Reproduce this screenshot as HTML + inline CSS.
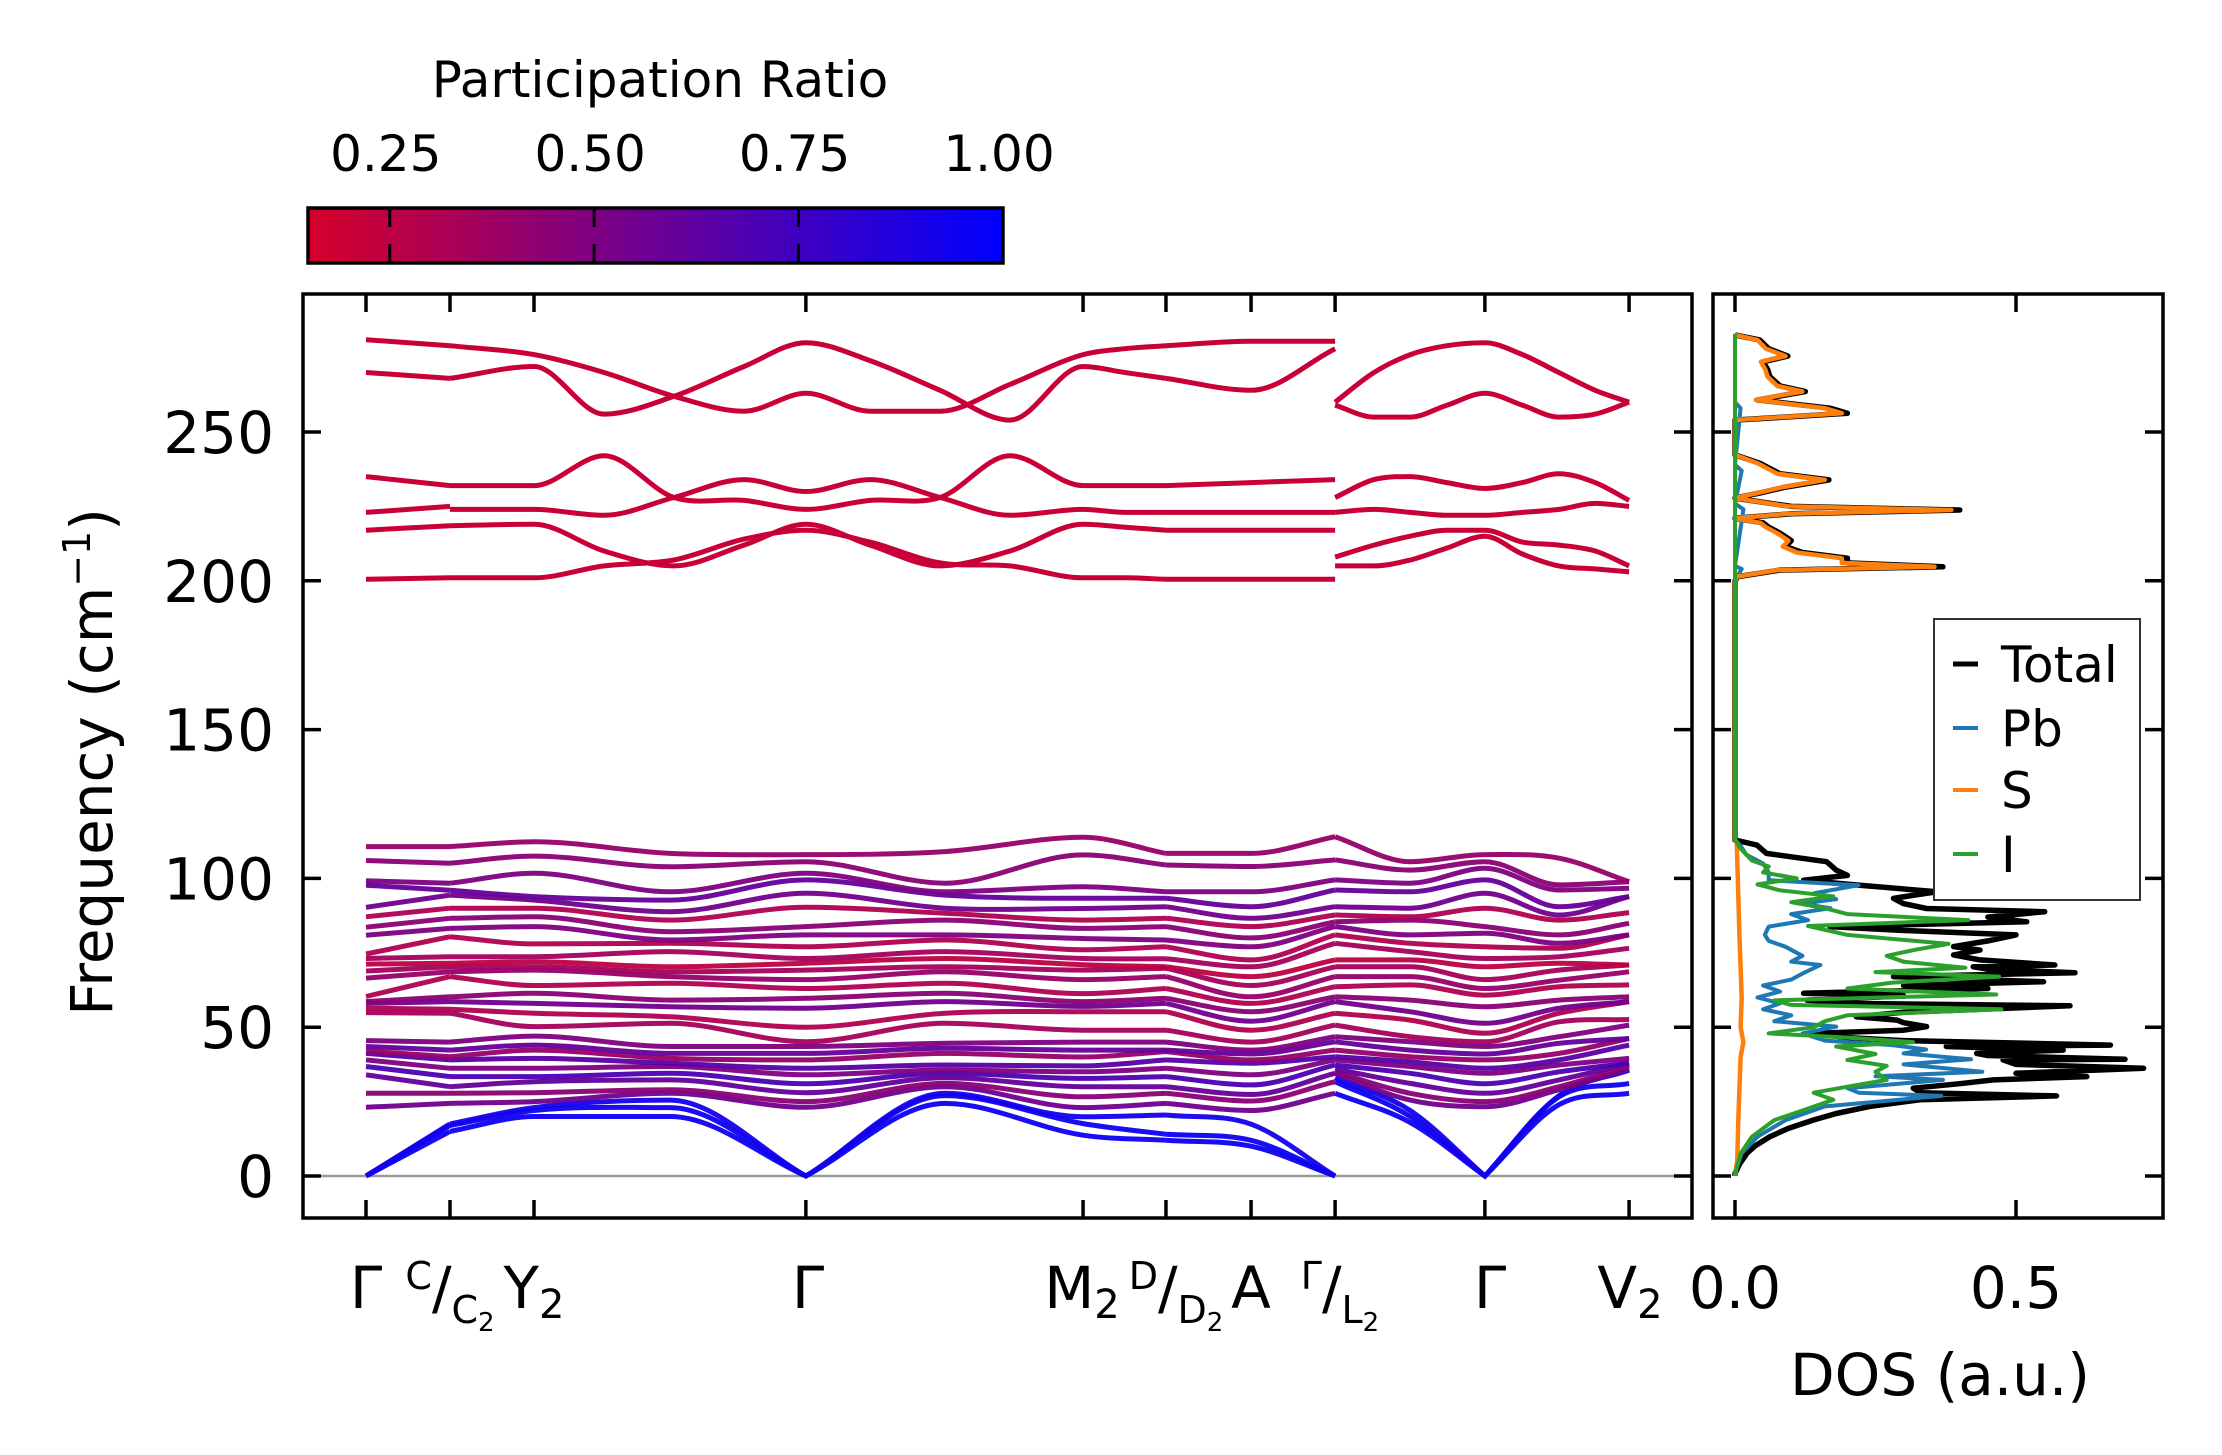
<!DOCTYPE html>
<html><head><meta charset="utf-8"><style>
html,body{margin:0;padding:0;background:#fff;}
svg{display:block;font-family:"DejaVu Sans","Liberation Sans",sans-serif;}
</style></head><body>
<svg id="fig" width="2222" height="1455" viewBox="0 0 2222 1455" xmlns="http://www.w3.org/2000/svg">
<defs>
<linearGradient id="cbgrad" x1="0" x2="1" y1="0" y2="0">
<stop offset="0" stop-color="rgb(214,0,42)"/><stop offset="1" stop-color="rgb(0,0,255)"/>
</linearGradient>
<clipPath id="clipBand"><rect x="303" y="294" width="1389" height="924"/></clipPath>
<clipPath id="clipDos"><rect x="1713" y="294" width="450" height="924"/></clipPath>
</defs>
<g>
<text x="660" y="97" font-size="50" text-anchor="middle">Participation Ratio</text>
<rect x="308" y="208" width="695" height="55" fill="url(#cbgrad)" stroke="#000" stroke-width="3.5"/>
<g id="cbticks"></g>
</g>
<g id="bandPanel">
<line x1="303" x2="1692" y1="1176" y2="1176" stroke="#999" stroke-width="2.5"/>
<g id="bands" clip-path="url(#clipBand)"></g>
<rect x="303" y="294" width="1389" height="924" fill="none" stroke="#000" stroke-width="3.5"/>
<g id="bandTicks"></g>
<text transform="translate(112,762) rotate(-90)" font-size="58" text-anchor="middle">Frequency (cm<tspan font-size="38" dy="-22">−1</tspan><tspan dy="22">)</tspan></text>
<g id="kLabels" font-size="58" text-anchor="middle"></g>
</g>
<g id="dosPanel">
<g id="dosLines" clip-path="url(#clipDos)"></g>
<rect x="1713" y="294" width="450" height="924" fill="none" stroke="#000" stroke-width="3.5"/>
<g id="dosTicks"></g>
<text x="1940" y="1395" font-size="58" text-anchor="middle">DOS (a.u.)</text>
<g>
<rect x="1934" y="619" width="206" height="281" fill="#fff" stroke="#333" stroke-width="2"/>
<g id="legendItems" font-size="50"></g>
</g>
</g>
</svg>
<script>
// ---------- band-structure data ----------
const kTickPos = [0, 0.3, 0.6, 1.571, 2.561, 2.857, 3.161, 3.461, 3.996, 4.511];
const colQ = [0, 0.3, 0.6, 1.086, 1.571, 2.068, 2.561, 2.857, 3.161, 3.461, 3.461, 3.729, 3.996, 4.261, 4.511];
const pieces = [[0,1],[1,2,3,4,5,6,7],[7,8,9],[10,11,12,13,14]];
const lowCols = [
 [0,0,0,23.1,27.8,34,36.8,39,41.2,42,43.5,45.5,54.9,56.4,58,58.6,60.3,66.5,68.9,71.2,73.1,74.6,80.9,83.6,87.1,90.3,97.7,99.2,106,110.7],
 [15,17,17.5,24.4,27.8,30,33.4,36.2,39,40.1,42.3,45,54.7,56,58.6,60.2,67,68.6,70.3,71.5,73.7,80.4,83.2,86.6,90,94.4,96,98.4,105.1,110.7],
 [20,22,23,25,28,31.7,33.4,36.2,39.5,42.3,44,47,50.2,54.7,58,61.4,64,69.2,70.3,72,73.7,78,83.8,87.1,90,92.7,93.9,101.7,107.5,112.3],
 [20,23,25.5,27.8,29,32.3,34.5,36.8,37.9,39.5,41.2,43.5,51.3,53.5,56.9,59.1,64.8,67,68.6,70.3,75.4,78.2,79.3,82.1,86,88.8,92.7,95.5,103.9,108.4],
 [0,0,0,23.1,25,28,31,34,36.2,39,41.2,43.5,45.1,50,56.4,59.7,63,66,69.2,71.5,73.1,77,81,83.8,90.3,95,99.5,101.7,105.6,108],
 [24.4,27,27.8,30,31.1,33,34.5,35.6,37.3,41.2,42.9,44.6,51.3,54.7,58.6,61.4,64.8,68.6,70.3,73.1,75.4,79.3,81,86,88.3,90,94.4,95.5,98.4,109],
 [13.7,17.6,19.9,23,26.6,30,32.8,35,37,40,42.3,45,49,55.2,57,58.6,61.3,66,69.2,71,73.1,76,79.8,83.2,86,89.9,93.3,97.2,107.9,113.8],
 [12,14,20.5,24.4,27.8,30,33.4,36.2,39,41.8,42.3,45,49,55.2,58,59.7,63,67,69.8,70.3,73,77,79.3,83.8,86.6,90.5,93.3,95.5,104.5,108.4],
 [10,12,17.4,22,25.2,27.4,30.6,34,37.9,39,41,42.3,45,49,52,55.2,58,60.2,64,67,70.3,72.6,77,80,83.8,86.6,90.5,95.5,104,108.4],
 [0,0,0,27.8,31.7,34.5,37.3,39,40.1,42.3,45.1,46.8,50.7,54.7,58.6,60.2,63.6,67,70.3,72.6,78.2,81,83.8,85.4,87.7,90.5,96.1,99.5,106.2,114],
 [27.8,31.7,33,34.5,35,36,37.3,39,40.1,42.3,45.1,46.8,50.7,54.7,58.6,60.2,63.6,67,70.3,72.6,78.2,81,83.8,85.4,87.7,90.5,96.1,99.5,106.2,114],
 [18,20,22,25.5,27.8,31.1,34.5,36.8,38.4,40.1,42.3,45.1,46.8,52.4,55.2,59.1,64.2,67,70.3,72.6,75.4,78.2,81,86,87.1,90,95.5,98.4,102.8,105.6],
 [0,0,0,23.3,25,27.8,31,34.5,36.2,39,41,43.5,45.1,48,51.3,56.9,60.8,63,66,70.3,73.1,77,81.6,83.8,90,95,99.5,103.4,105.6,108],
 [24,26.6,27,29,30,32.3,35,37.3,39,41.2,44.6,46.8,51.8,54.7,56.4,59.1,63.6,65.8,69.2,71.5,73.7,76.5,78.2,81,86,87.7,90.5,96.1,97.8,106.8],
 [27.8,31.1,35.6,36,37,37.9,38,39.5,44,46.2,46.2,50.7,52.6,58.6,58.6,60.2,64.2,68.6,70.9,70.9,76.5,81,81,84.9,88.5,93.9,93.9,96.7,98.9,98.9]
];
const prLow = [0.95,0.95,0.92,0.55,0.45,0.6,0.7,0.5,0.65,0.4,0.6,0.5,0.35,0.3,0.55,0.45,0.3,0.4,0.35,0.25,0.35,0.3,0.5,0.45,0.3,0.55,0.6,0.5,0.45,0.4];

// high-frequency bands: own q-sample grid, values per band
const highQ = [0,0.3, 0.3,0.6,0.85,1.1,1.35,1.571,1.8,2.05,2.3,2.561,2.71,2.857, 2.857,3.161,3.461, 3.461,3.6,3.73,3.86,3.996,4.13,4.26,4.39,4.511];
const highPieces = [[0,1],[2,3,4,5,6,7,8,9,10,11,12,13],[14,15,16],[17,18,19,20,21,22,23,24,25]];
const highH1 = [281,279, 279,276,270,262,257,263,257,257,266,276,278,279, 279,280.5,280.5, 260,270,276,279,280,276,270,264,260];
const highH2 = [270,268, 268,272,256,262,272,280,274,264,254,272,270,268, 268,264,278, 259,255,255,259,263,259,255,256,260];
const highM1 = [235,232, 232,232,242,228,227,224,227,228,242,232,232,232, 232,233,234, 228,234,235,233,231,233,236,233,227];
const highM2 = [223,225, 224,224,222,228,234,230,234,228,222,224,223,223, 223,223,223, 223,224,223,222,222,223,224,226,225];
const highM3 = [217,218.5, 218.5,219,210,205,212,219,212,205,210,219,218,217, 217,217,217, 208,212,215,217,217,213,212,210,205];
const highM4 = [200.5,201, 201,201,205,207,214,217,213,206,205,201,201,200.5, 200.5,200.5,200.5, 205,205,207,211,215,209,205,204,203];
const prHigh = [0.2,0.2,0.2,0.2,0.2,0.2];

const cbTicks = [0.25, 0.5, 0.75, 1.0];
const cbLabels = ["0.25","0.50","0.75","1.00"];
const yTicks = [0, 50, 100, 150, 200, 250];
const dosTicks = [0, 0.5];
const dosTickLabels = ["0.0","0.5"];

// ---------- DOS data ----------
const totF = [0,0.8,4,7.6,10,13.2,16,18.8,21,23.4,25.6,26.9,28,29.5,31,32.3,33.4,34.5,36.2,37.5,39,39.2,40.5,41.2,42.3,43.5,44,45.5,46.5,47.9,49,50.2,51.5,52.4,53.5,55,57.2,58,59.1,60.5,61.4,63,64,65.3,67,68.3,69.5,70.3,70.9,72.6,74.3,75.9,77.1,79,81,82.5,83.8,85.4,87,88.8,89.9,91.5,93.3,95.5,97.7,99.4,101,102.8,105.6,108.4,111.2,112.9,200,201.4,203.6,204.7,206,207.6,209.5,211.5,213.5,216,218,219.5,221,222.5,223.8,225,227.8,229.5,231.5,233.9,236,239.5,242.3,254,256.3,258,260.8,263.6,265.5,268.6,271,273.6,275.5,278,280.9,282.6];
const totV = [0,0,0.008,0.021,0.035,0.062,0.095,0.139,0.18,0.24,0.329,0.572,0.33,0.317,0.4,0.46,0.626,0.5,0.727,0.5,0.477,0.694,0.45,0.43,0.584,0.376,0.668,0.3,0.2,0.139,0.3,0.341,0.3,0.288,0.216,0.3,0.596,0.2,0.128,0.3,0.122,0.45,0.3,0.549,0.282,0.605,0.45,0.424,0.569,0.436,0.389,0.436,0.389,0.45,0.5,0.3,0.169,0.519,0.45,0.551,0.341,0.3,0.282,0.359,0.222,0.122,0.2,0.18,0.163,0.056,0.039,0,0,0.005,0.08,0.37,0.2,0.2,0.12,0.09,0.1,0.08,0.06,0.05,0,0.1,0.4,0.1,0,0.044,0.09,0.167,0.08,0.044,0,0,0.2,0.169,0.04,0.125,0.08,0.062,0.058,0.05,0.094,0.06,0.044,0];
const pbF = [0,0.8,7.6,13.2,18.8,23.4,26.9,28,29.5,32.3,33.5,35,37.5,39.2,41.2,42.5,44,45.5,47.9,50.2,52,54,56,58,60,62,64,66,68,70.9,72,74,77,79,81,83.8,86,88,90,91.5,93,95,97.7,99.4,102,105,108,111,113,200,204,205,224,226,237,239,258,260];
const pbV = [0,0,0.012,0.04,0.09,0.16,0.367,0.22,0.2,0.37,0.25,0.44,0.3,0.42,0.3,0.34,0.28,0.16,0.12,0.18,0.07,0.1,0.05,0.08,0.04,0.08,0.05,0.1,0.12,0.152,0.1,0.12,0.09,0.06,0.053,0.06,0.13,0.1,0.17,0.12,0.18,0.14,0.22,0.06,0.06,0.05,0.02,0.01,0,0,0.012,0,0.015,0,0.012,0,0.01,0];
const sF = [0,5,20,40,45,50,60,80,100,112,113,200,201.4,203.6,204.7,206,207.6,209.5,211.5,213.5,216,218,219.5,221,222.5,223.8,225,227.8,229.5,231.5,233.9,236,239.5,242.3,254,256.3,258,260.8,263.6,265.5,268.6,271,273.6,275.5,278,280.9,282.6];
const sV = [0,0.004,0.006,0.01,0.015,0.01,0.012,0.008,0.005,0.003,0,0,0.004,0.075,0.355,0.19,0.19,0.11,0.085,0.095,0.075,0.055,0.045,0,0.095,0.385,0.095,0,0.04,0.085,0.16,0.075,0.04,0,0,0.19,0.16,0.037,0.12,0.075,0.058,0.054,0.046,0.09,0.055,0.04,0];
const iF = [0,0.8,7.6,13.2,18.8,22,25.6,28,30,32.3,35,37,39,41,43.5,45,46.5,47.9,50,52,54,56,57.5,59,61,63,65,67,68.5,70,72,74,76,78,81,84,86,88,90,92,94,96,98,100,102,104,106,110,113,283];
const iV = [0,0,0.01,0.03,0.07,0.12,0.175,0.14,0.2,0.27,0.25,0.27,0.2,0.25,0.18,0.317,0.2,0.06,0.14,0.16,0.2,0.474,0.1,0.07,0.465,0.2,0.28,0.47,0.25,0.41,0.3,0.27,0.32,0.38,0.2,0.13,0.415,0.2,0.16,0.1,0.175,0.08,0.04,0.11,0.05,0.06,0.03,0.01,0,0];

// ---------- scales ----------
const SVGNS = "http://www.w3.org/2000/svg";
function xK(q){ return 366 + 280*q; }
function yF(v){ return 1176 - 2.976*v; }
function xD(d){ return 1735 + 562*d; }
function prColor(p){
  const t = Math.max(0, Math.min(1, (p-0.15)/0.85));
  const r = Math.round(214*(1-t)), b = Math.round(42*(1-t) + 255*t);
  return "rgb("+r+",0,"+b+")";
}
function mk(tag, attrs, parent){
  const e = document.createElementNS(SVGNS, tag);
  for (const k in attrs) e.setAttribute(k, attrs[k]);
  parent.appendChild(e);
  return e;
}
function smoothPath(pts){
  if (pts.length < 2) return "";
  let d = "M" + pts[0][0].toFixed(1) + "," + pts[0][1].toFixed(1);
  if (pts.length === 2) return d + "L" + pts[1][0].toFixed(1) + "," + pts[1][1].toFixed(1);
  const n = pts.length;
  const tanOut = [], tanIn = [];
  for (let i=0;i<n;i++){
    let sL = null, sR = null;
    if (i>0) sL = (pts[i][1]-pts[i-1][1])/(pts[i][0]-pts[i-1][0]);
    if (i<n-1) sR = (pts[i+1][1]-pts[i][1])/(pts[i+1][0]-pts[i][0]);
    if (pts[i][2]) { tanIn[i] = sL===null?sR:sL; tanOut[i] = sR===null?sL:sR; }
    else {
      let m;
      if (sL===null) m = sR; else if (sR===null) m = sL;
      else { m = (sL*sR<=0) ? 0 : (sL+sR)/2; }
      tanIn[i] = m; tanOut[i] = m;
    }
  }
  for (let i=0;i<n-1;i++){
    const h = pts[i+1][0]-pts[i][0];
    const c1x = pts[i][0]+h/3, c1y = pts[i][1]+tanOut[i]*h/3;
    const c2x = pts[i+1][0]-h/3, c2y = pts[i+1][1]-tanIn[i+1]*h/3;
    d += "C"+c1x.toFixed(1)+","+c1y.toFixed(1)+" "+c2x.toFixed(1)+","+c2y.toFixed(1)+" "+pts[i+1][0].toFixed(1)+","+pts[i+1][1].toFixed(1);
  }
  return d;
}

// ---------- colorbar ticks ----------
const cbG = document.getElementById("cbticks");
function xCB(p){ return 308 + (p-0.15)/0.85*695; }
cbTicks.forEach((p,i)=>{
  if (p < 0.99) {
    const l = mk("line",{x1:xCB(p),x2:xCB(p),y1:208,y2:263,stroke:"#000","stroke-width":3,"stroke-dasharray":"19,17,19"},cbG);
    
    
  }
  const t = mk("text",{x:xCB(p)-4,y:171,"font-size":50,"text-anchor":"middle"},cbG);
  t.textContent = cbLabels[i];
  
  
});

// ---------- bands ----------
const bandsG = document.getElementById("bands");
const nbLow = Math.min.apply(null, lowCols.map(c=>c.length));
const lowSorted = lowCols.map(c=>c.slice().sort((a,b)=>a-b));
for (let b=0;b<nbLow;b++){
  pieces.forEach((pc,pi)=>{
    const pts = pc.map(ci=>[xK(colQ[ci]), yF(lowSorted[ci][b]), lowSorted[ci][b]===0]);
    const p = mk("path",{d:smoothPath(pts),fill:"none",stroke:prColor(prLow[b]),"stroke-width":5,"stroke-opacity":0.95},bandsG);
    
    
  });
}
const highBands = [highM4, highM3, highM2, highM1, highH2, highH1];
highBands.forEach((vals,b)=>{
  highPieces.forEach((pc,pi)=>{
    const pts = pc.map(ci=>[xK(highQ[ci]), yF(vals[ci]), false]);
    const p = mk("path",{d:smoothPath(pts),fill:"none",stroke:prColor(prHigh[b]),"stroke-width":5},bandsG);
    
    
  });
});

// ---------- band ticks & labels ----------
const btG = document.getElementById("bandTicks");
kTickPos.forEach(q=>{
  const x = xK(q);
  const a = mk("line",{x1:x,x2:x,y1:1218,y2:1200,stroke:"#000","stroke-width":3.5},btG);
  
  
  const b = mk("line",{x1:x,x2:x,y1:294,y2:312,stroke:"#000","stroke-width":3.5},btG);
  
  
});
yTicks.forEach(v=>{
  const y = yF(v);
  [[303,321],[1692,1674],[1713,1731],[2163,2145]].forEach(([x1,x2],k)=>{
    const l = mk("line",{x1:x1,x2:x2,y1:y,y2:y,stroke:"#000","stroke-width":3.5}, k<2?btG:document.getElementById("dosTicks"));
    
    
  });
  const t = mk("text",{x:274,y:y+21,"font-size":58,"text-anchor":"end"},btG);
  t.textContent = String(v);
  
  
});
const kl = document.getElementById("kLabels");
kl.innerHTML =
 '<text x="366" y="1308">Γ</text>'+
 '<text x="450" y="1308"><tspan font-size="38" dy="-19">C</tspan><tspan dy="19">/</tspan><tspan font-size="38" dy="15">C</tspan><tspan font-size="26" dy="8">2</tspan></text>'+
 '<text x="534" y="1308">Y<tspan font-size="40" dy="10">2</tspan></text>'+
 '<text x="808" y="1308">Γ</text>'+
 '<text x="1082" y="1308">M<tspan font-size="40" dy="10">2</tspan></text>'+
 '<text x="1176" y="1308"><tspan font-size="38" dy="-19">D</tspan><tspan dy="19">/</tspan><tspan font-size="38" dy="15">D</tspan><tspan font-size="26" dy="8">2</tspan></text>'+
 '<text x="1251" y="1308">A</text>'+
 '<text x="1340" y="1308"><tspan font-size="38" dy="-19">Γ</tspan><tspan dy="19">/</tspan><tspan font-size="38" dy="15">L</tspan><tspan font-size="26" dy="8">2</tspan></text>'+
 '<text x="1490" y="1308">Γ</text>'+
 '<text x="1630" y="1308">V<tspan font-size="40" dy="10">2</tspan></text>';

// ---------- DOS ----------
const dosG = document.getElementById("dosLines");
function dosPath(F,V){
  const n = Math.min(F.length, V.length);
  let d = "";
  for (let i=0;i<n;i++) d += (i?"L":"M") + xD(V[i]).toFixed(1) + "," + yF(F[i]).toFixed(1);
  return d;
}
const series = [["total",totF,totV,"#000",5.5],["pb",pbF,pbV,"#1f77b4",4],["s",sF,sV,"#ff7f0e",4.5],["i",iF,iV,"#2ca02c",4]];
series.forEach(s=>{
  const p = mk("path",{d:dosPath(s[1],s[2]),fill:"none",stroke:s[3],"stroke-width":s[4],"stroke-linejoin":"round"},dosG);
  
  
});
const dtG = document.getElementById("dosTicks");
dosTicks.forEach((d,i)=>{
  const x = xD(d);
  const a = mk("line",{x1:x,x2:x,y1:1218,y2:1200,stroke:"#000","stroke-width":3.5},dtG);
  
  
  const b = mk("line",{x1:x,x2:x,y1:294,y2:312,stroke:"#000","stroke-width":3.5},dtG);
  
  
  const t = mk("text",{x:x,y:1308,"font-size":58,"text-anchor":"middle"},dtG);
  t.textContent = dosTickLabels[i];
  
  
});
const legendNames = ["Total","Pb","S","I"];
const legendColors = ["#000","#1f77b4","#ff7f0e","#2ca02c"];
const legendY = [664, 728, 790, 854];
const lgG = document.getElementById("legendItems");
legendNames.forEach((nm,i)=>{
  const l = mk("line",{x1:1953,x2:1978,y1:legendY[i],y2:legendY[i],stroke:legendColors[i],"stroke-width":i===0?5:4},lgG);
  
  
  const t = mk("text",{x:2001,y:legendY[i]+18},lgG);
  t.textContent = nm;
  
  
});
</script>
</body></html>
